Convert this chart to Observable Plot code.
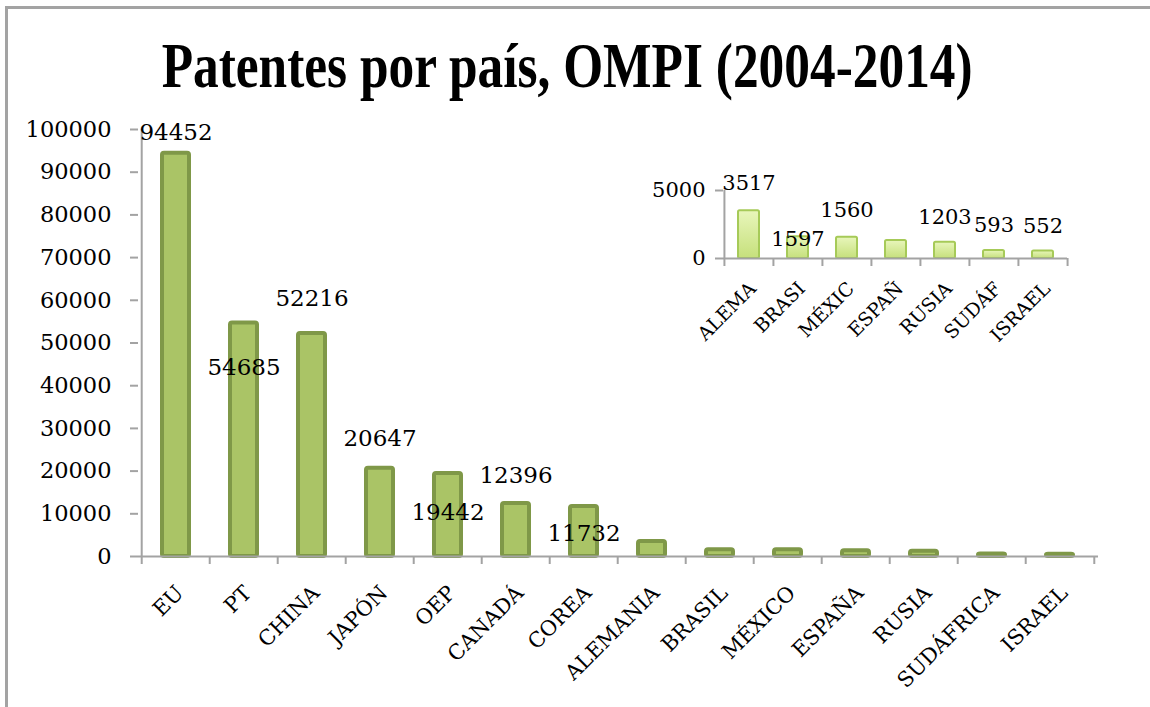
<!DOCTYPE html>
<html>
<head>
<meta charset="utf-8">
<script src="https://cdn.jsdelivr.net/npm/d3@7"></script>
<script src="https://cdn.jsdelivr.net/npm/@observablehq/plot@0.6"></script>
<style>
  html, body { margin: 0; padding: 0; background: #fff; }
  body { width: 1150px; height: 707px; overflow: hidden; position: relative; font-family: "DejaVu Serif", serif; }
  #frame { position: absolute; left: 5px; top: 6px; width: 1300px; height: 900px;
           border-top: 3px solid #a3a3a3; border-left: 3px solid #a3a3a3; }
  #title { position: absolute; left: -8px; top: 34px; width: 1150px; text-align: center; line-height: 1; }
  #title span { display: inline-block; font-family: "Liberation Serif", serif;
                font-weight: bold; font-size: 64px; color: #000;
                transform-origin: 50% 50%; white-space: nowrap; }
  #main { position: absolute; left: 0; top: 115px; }
  #inset { position: absolute; left: 640px; top: 150px; }
</style>
</head>
<body>
<div id="frame"></div>
<div id="title"><span>Patentes por país, OMPI (2004-2014)</span></div>
<div id="main"></div>
<div id="inset"></div>
<script>
// ---------- data ----------
const categories = ["EU", "PT", "CHINA", "JAPÓN", "OEP", "CANADÁ", "COREA", "ALEMANIA", "BRASIL", "MÉXICO", "ESPAÑA", "RUSIA", "SUDÁFRICA", "ISRAEL"];
const patents = [94452, 54685, 52216, 20647, 19442, 12396, 11732, 3517, 1597, 1560, 1320, 1203, 593, 552];
const labeledMain = ["EU", "PT", "CHINA", "JAPÓN", "OEP", "CANADÁ", "COREA"];
const yTicks = [0, 10000, 20000, 30000, 40000, 50000, 60000, 70000, 80000, 90000, 100000];

const insetCategories = ["ALEMANIA", "BRASIL", "MÉXICO", "ESPAÑA", "RUSIA", "SUDÁFRICA", "ISRAEL"];
const insetTickLabels = ["ALEMA", "BRASI", "MÉXIC", "ESPAÑ", "RUSIA", "SUDÁF", "ISRAEL"];
const labeledInset = ["ALEMANIA", "BRASIL", "MÉXICO", "RUSIA", "SUDÁFRICA", "ISRAEL"];
const insetYTicks = [0, 5000];

// ---------- layout (label placement offsets, px) ----------
const mainLabelDy = [-21, 45, -35, -30, 39, -28, 27];
const insetLabelDy = [-27, 2, -27, -25, -25, -25];

// ---------- tables ----------
const table = categories.map((c, i) => ({cat: c, value: patents[i]}));
const mainLabels = table.filter(d => labeledMain.includes(d.cat));
const insetTable = insetCategories.map((c, i) => ({cat: c, tick: insetTickLabels[i], value: patents[categories.indexOf(c)]}));
const insetLabels = insetTable.filter(d => labeledInset.includes(d.cat));

const axisGray = "#a3a3a3";
const barFill = "#aac466";
const barStroke = "#7f9848";

// ---------- main chart ----------
const W = 1150, H = 592, mL = 138, mR = 52, mT = 14, mB = 151;
const step = (W - mL - mR) / categories.length;

const main = Plot.plot({
  width: W, height: H,
  marginLeft: mL, marginRight: mR, marginTop: mT, marginBottom: mB,
  style: {fontFamily: "'DejaVu Serif', serif", fontSize: "21px", color: "#000", background: "transparent", overflow: "visible"},
  x: {domain: categories, paddingInner: 0.6, paddingOuter: 0.3, label: null},
  y: {domain: [0, 100000], label: null},
  marks: [
    Plot.barY(table, {x: "cat", y: "value", fill: barFill, stroke: barStroke, strokeWidth: 4, rx: 2}),
    Plot.ruleY([0], {stroke: axisGray, strokeWidth: 2}),
    Plot.ruleX([categories[0]], {x: d => d, y1: 0, y2: 100000, dx: -step / 2, stroke: axisGray, strokeWidth: 2}),
    Plot.ruleX(categories, {x: d => d, y1: 0, y2: 0, dx: -step / 2, insetBottom: -8, stroke: axisGray, strokeWidth: 2}),
    Plot.ruleX([categories[categories.length - 1]], {x: d => d, y1: 0, y2: 0, dx: step / 2, insetBottom: -8, stroke: axisGray, strokeWidth: 2}),
    Plot.axisY({ticks: yTicks, tickSize: 8, tickPadding: 19, tickFormat: d => String(d), stroke: axisGray, strokeWidth: 2, fill: "#000", fontSize: 22.5, label: null}),
    Plot.axisX({tickSize: 0, tickRotate: -45, tickPadding: 33, dx: 4, fill: "#000", fontSize: 21, label: null}),
    ...mainLabels.map((d, i) => Plot.text([d], {x: "cat", y: "value", text: e => String(e.value), dy: mainLabelDy[i], fontSize: 23, fill: "#000"}))
  ]
});
document.getElementById("main").appendChild(main);

// ---------- inset chart ----------
const iW = 460, iH = 200, iL = 83, iR = 33, iT = 40, iB = 92;
const iStep = (iW - iL - iR) / insetCategories.length;
const tickLabelOf = Object.fromEntries(insetTable.map(d => [d.cat, d.tick]));

const inset = Plot.plot({
  width: iW, height: iH,
  marginLeft: iL, marginRight: iR, marginTop: iT, marginBottom: iB,
  style: {fontFamily: "'DejaVu Serif', serif", fontSize: "19px", color: "#000", background: "transparent", overflow: "visible"},
  x: {domain: insetCategories, paddingInner: 0.58, paddingOuter: 0.29, label: null},
  y: {domain: [0, 5000], label: null},
  marks: [
    () => {
      const ns = "http://www.w3.org/2000/svg";
      const defs = document.createElementNS(ns, "defs");
      const g = document.createElementNS(ns, "linearGradient");
      g.setAttribute("id", "insetGrad");
      g.setAttribute("x1", "0"); g.setAttribute("y1", "0"); g.setAttribute("x2", "0"); g.setAttribute("y2", "1");
      [["0%", "#e8f6bb"], ["100%", "#c6e07c"]].forEach(([o, c]) => {
        const s = document.createElementNS(ns, "stop");
        s.setAttribute("offset", o); s.setAttribute("stop-color", c);
        g.appendChild(s);
      });
      defs.appendChild(g);
      return defs;
    },
    Plot.barY(insetTable, {x: "cat", y: "value", fill: "url(#insetGrad)", stroke: "#a6ca58", strokeWidth: 2, rx: 1.5}),
    Plot.ruleY([0], {stroke: axisGray, strokeWidth: 2}),
    Plot.ruleX([insetCategories[0]], {x: d => d, y1: 0, y2: 5000, dx: -iStep / 2, stroke: axisGray, strokeWidth: 2}),
    Plot.ruleX(insetCategories, {x: d => d, y1: 0, y2: 0, dx: -iStep / 2, insetBottom: -8, stroke: axisGray, strokeWidth: 2}),
    Plot.ruleX([insetCategories[insetCategories.length - 1]], {x: d => d, y1: 0, y2: 0, dx: iStep / 2, insetBottom: -8, stroke: axisGray, strokeWidth: 2}),
    Plot.axisY({ticks: insetYTicks, tickSize: 8, tickPadding: 10, tickFormat: d => String(d), stroke: axisGray, strokeWidth: 2, fill: "#000", fontSize: 21, label: null}),
    Plot.axisX({tickSize: 0, tickRotate: -45, tickPadding: 27, dx: 4, tickFormat: d => tickLabelOf[d], fill: "#000", fontSize: 19, label: null}),
    ...insetLabels.map((d, i) => Plot.text([d], {x: "cat", y: "value", text: e => String(e.value), dy: insetLabelDy[i], fontSize: 21, fill: "#000"}))
  ]
});
document.getElementById("inset").appendChild(inset);

// ---------- title sizing ----------
const tspan = document.querySelector("#title span");
const tw = tspan.getBoundingClientRect().width;
tspan.style.transform = `scaleX(${811 / tw})`;
</script>
</body>
</html>
